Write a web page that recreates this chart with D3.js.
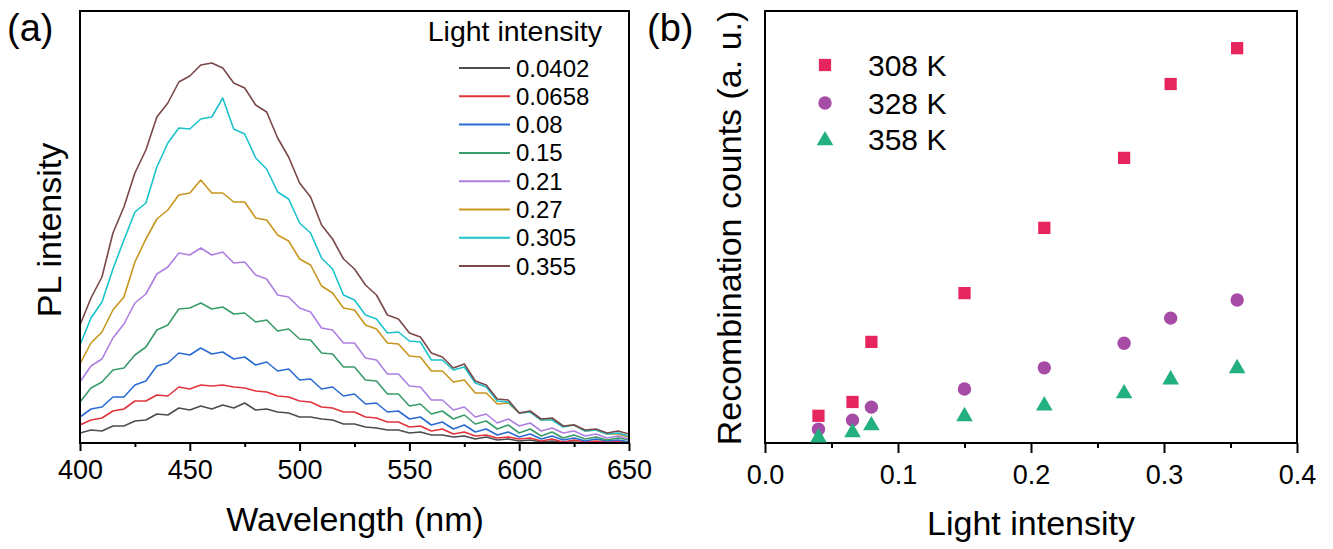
<!DOCTYPE html>
<meta charset="utf-8">
<script src="https://cdn.jsdelivr.net/npm/d3@7/dist/d3.min.js"></script>
<style>
  body { margin: 0; background: #fff; }
  text { font-family: "Liberation Sans", Arial, sans-serif; fill: #000; }
</style>
<body>
<svg id="chart" width="1333" height="549"></svg>
<script>
  // ---- panel (a) : PL spectra, a.u. ----
  var wavelength = [400,405,410,415,420,425,430,435,440,445,450,455,460,465,470,475,480,485,490,495,
                    500,505,510,515,520,525,530,535,540,545,550,555,560,565,570,575,580,585,590,595,
                    600,605,610,615,620,625,630,635,640,645,650];

  var pl0402 = [10,13,12,17,17,22,23,29,28,35,33,37,34,38,35,40,33,34,31,30,26,26,24,23,19,19,16,15,13,13,
                10,11,8,8,6,7,4,6,3,4,2,3,1,2,1,1,0,1,1,2,1];
  var pl0658 = [18,23,25,32,34,42,42,48,47,56,54,58,57,58,56,55,52,51,47,46,42,41,36,35,31,31,26,25,21,21,
                16,17,12,14,9,11,7,8,5,6,4,5,2,4,1,3,1,2,1,2,0];
  var pl08   = [26,34,36,46,46,58,62,77,80,90,88,95,89,91,84,86,78,81,72,74,63,64,54,56,47,49,39,40,31,32,
                24,26,18,21,14,18,11,14,8,11,6,9,4,7,3,5,2,4,2,3,1];
  var pl15   = [41,55,61,73,75,88,96,113,118,134,135,140,134,136,129,130,121,123,112,114,104,103,90,89,76,76,63,62,49,49,
                37,39,29,32,24,28,19,22,14,18,10,14,7,11,5,8,4,6,3,5,3];
  var pl21   = [61,77,84,105,119,140,149,169,176,190,188,195,188,191,180,181,168,164,148,146,135,131,115,113,100,100,85,83,69,69,
                57,56,43,43,33,36,26,29,20,24,17,20,12,15,10,12,7,9,5,7,4];
  var pl27   = [79,100,111,133,146,181,204,224,233,248,250,263,250,250,241,241,225,223,208,202,184,178,157,150,135,133,118,114,100,99,
                87,86,72,72,61,63,50,50,39,40,30,31,23,24,17,18,12,13,9,9,6];
  var pl305  = [98,125,141,174,203,231,240,276,300,315,314,324,326,345,314,309,285,274,251,244,220,210,185,174,148,143,128,124,110,111,
                102,101,83,83,73,76,60,56,42,41,30,31,23,23,16,18,12,13,9,10,7];
  var pl355  = [118,145,166,210,236,270,293,326,340,361,367,378,380,375,360,355,338,331,305,286,260,246,218,204,184,174,158,148,128,124,
                110,106,90,86,75,79,62,58,44,43,30,32,24,25,17,18,13,14,10,12,9];

  var plLabels = ["0.0402", "0.0658", "0.08", "0.15", "0.21", "0.27", "0.305", "0.355"];
  var plSeries = [pl0402, pl0658, pl08, pl15, pl21, pl27, pl305, pl355];
  var plColors = ["#4d4d4d", "#e2343d", "#2b6cd4", "#3a9c6a", "#ad80e0", "#c8961e", "#1cc2cb", "#7a4848"];
  var xTicksA = [400, 450, 500, 550, 600, 650];
  var xMinorA = [425, 475, 525, 575, 625];

  // ---- panel (b) : recombination counts, a.u. ----
  var lightIntensity = [0.0402, 0.0658, 0.08, 0.15, 0.21, 0.27, 0.305, 0.355];
  var rec308 = [6.3, 9.5, 23.4, 34.7, 49.8, 66.0, 83.1, 91.4];
  var rec328 = [3.2, 5.3, 8.3, 12.5, 17.4, 23.1, 28.9, 33.1];
  var rec358 = [1.6, 2.8, 4.4, 6.5, 9.0, 11.8, 15.0, 17.6];
  var tempLabels = ["308 K", "328 K", "358 K"];
  var tempColors = ["#e6245e", "#a64ca6", "#23b07f"];
  var tempShapes = [d3.symbolSquare, d3.symbolCircle, d3.symbolTriangle];
  var xTicksB = [0, 0.1, 0.2, 0.3, 0.4];
  var xMinorB = [0.05, 0.15, 0.25, 0.35];

  var svg = d3.select("#chart");

  // scales
  var xA = d3.scaleLinear().domain([400, 650]).range([80, 629]);
  var yA = d3.scaleLinear().domain([0, 432]).range([443, 11]);
  var xB = d3.scaleLinear().domain([0, 0.4]).range([765, 1297]);
  var yB = d3.scaleLinear().domain([0, 100]).range([443, 11]);

  svg.append("clipPath").attr("id", "clipA")
    .append("rect").attr("x", 80).attr("y", 11).attr("width", 549).attr("height", 432);

  // ---------- panel a ----------
  var line = d3.line()
    .x(function(d, i) { return xA(wavelength[i]); })
    .y(function(d) { return yA(d); });

  svg.append("g").attr("clip-path", "url(#clipA)")
    .selectAll("path").data(plSeries).enter().append("path")
    .attr("d", line)
    .attr("fill", "none")
    .attr("stroke", function(d, i) { return plColors[i]; })
    .attr("stroke-width", 1.6)
    .attr("stroke-linejoin", "round");

  function bottomAxis(scale, ticks, minor, big, small, labelY, fmt) {
    var g = svg.append("g").attr("transform", "translate(0,443)");
    g.call(d3.axisBottom(scale).tickValues(ticks).tickSize(big).tickSizeOuter(0).tickFormat(fmt));
    g.select(".domain").remove();
    g.selectAll("line").attr("stroke", "#000").attr("stroke-width", 2);
    g.selectAll("text").attr("dy", null).attr("y", labelY)
      .style("font-size", "27px").style("font-family", '"Liberation Sans", Arial, sans-serif').attr("fill", "#000");
    var m = svg.append("g").attr("transform", "translate(0,443)");
    m.call(d3.axisBottom(scale).tickValues(minor).tickSize(small).tickSizeOuter(0).tickFormat(""));
    m.select(".domain").remove();
    m.selectAll("line").attr("stroke", "#000").attr("stroke-width", 2);
  }

  bottomAxis(xA, xTicksA, xMinorA, 8, 4, 36, d3.format("d"));
  bottomAxis(xB, xTicksB, xMinorB, 10, 5, 41, d3.format(".1f"));

  // frames
  svg.append("rect").attr("x", xA(400)).attr("y", yA(432))
    .attr("width", xA(650) - xA(400)).attr("height", yA(0) - yA(432))
    .attr("fill", "none").attr("stroke", "#000").attr("stroke-width", 2);
  svg.append("rect").attr("x", xB(0)).attr("y", yB(100))
    .attr("width", xB(0.4) - xB(0)).attr("height", yB(0) - yB(100))
    .attr("fill", "none").attr("stroke", "#000").attr("stroke-width", 2);

  // legend a
  svg.append("text").attr("x", 602).attr("y", 41).attr("text-anchor", "end")
    .style("font-size", "28.5px").text("Light intensity");
  var legA = svg.append("g").selectAll("g").data(plLabels).enter().append("g")
    .attr("transform", function(d, i) { return "translate(0," + (68 + i * 28.3) + ")"; });
  legA.append("line").attr("x1", 459).attr("x2", 510)
    .attr("stroke", function(d, i) { return plColors[i]; }).attr("stroke-width", 2);
  legA.append("text").attr("x", 516).attr("y", 8.5)
    .style("font-size", "24px").text(function(d) { return d; });

  // titles a
  svg.append("text").attr("x", 7).attr("y", 41).style("font-size", "38px").text("(a)");
  svg.append("text").attr("x", 355).attr("y", 531).attr("text-anchor", "middle")
    .style("font-size", "34px").text("Wavelength (nm)");
  svg.append("text").attr("transform", "translate(61,230) rotate(-90)").attr("text-anchor", "middle")
    .style("font-size", "34px").text("PL intensity");

  // ---------- panel b ----------
  var recSeries = [rec308, rec328, rec358];
  var symSizes = [150, 140, 120];
  recSeries.forEach(function(vals, k) {
    svg.append("g").selectAll("path").data(vals).enter().append("path")
      .attr("transform", function(d, i) {
        var dy = k === 2 ? 1.5 : 0;
        return "translate(" + xB(lightIntensity[i]) + "," + (yB(d) + dy) + ")";
      })
      .attr("d", d3.symbol().type(tempShapes[k]).size(symSizes[k]))
      .attr("fill", tempColors[k]);
  });

  var legB = svg.append("g").selectAll("g").data(tempLabels).enter().append("g")
    .attr("transform", function(d, i) { return "translate(0," + [65, 103, 139][i] + ")"; });
  legB.append("path")
    .attr("transform", function(d, i) { return "translate(825," + (i === 2 ? 1.5 : 0) + ")"; })
    .attr("d", function(d, i) { return d3.symbol().type(tempShapes[i]).size(symSizes[i])(); })
    .attr("fill", function(d, i) { return tempColors[i]; });
  legB.append("text").attr("x", 868).attr("y", 11)
    .style("font-size", "30px").text(function(d) { return d; });

  svg.append("text").attr("x", 647).attr("y", 41).style("font-size", "38px").text("(b)");
  svg.append("text").attr("x", 1031).attr("y", 535).attr("text-anchor", "middle")
    .style("font-size", "34px").text("Light intensity");
  svg.append("text").attr("transform", "translate(741,228) rotate(-90)").attr("text-anchor", "middle")
    .style("font-size", "34px").text("Recombination counts (a. u.)");
</script>
</body>
